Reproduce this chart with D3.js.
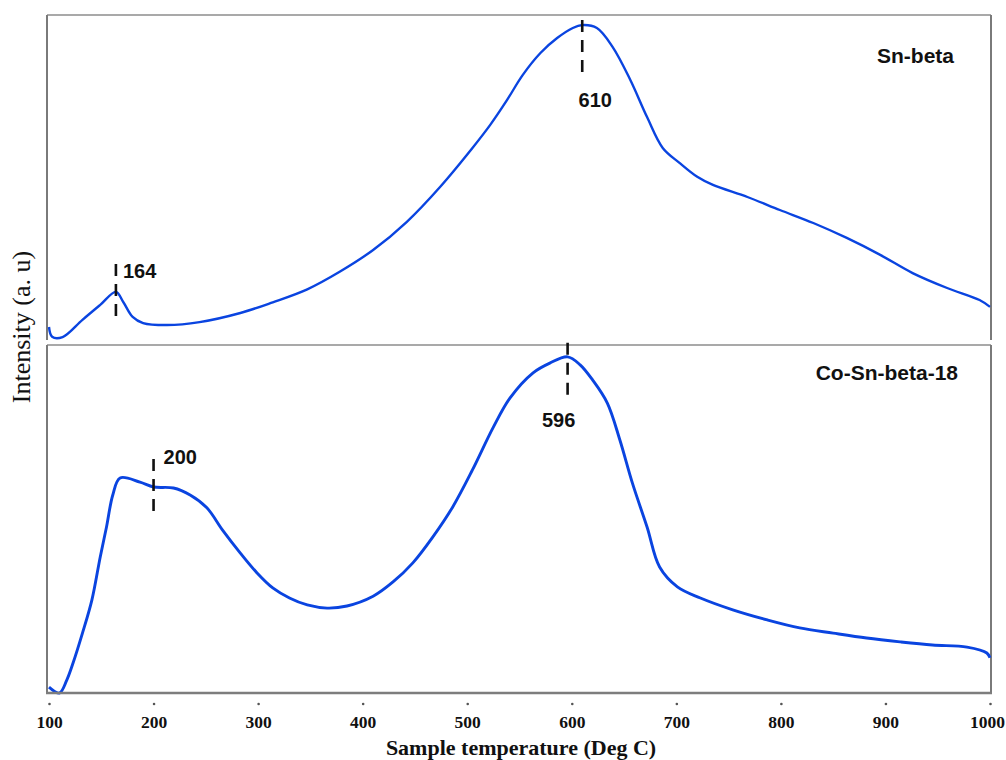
<!DOCTYPE html>
<html>
<head>
<meta charset="utf-8">
<script src="https://cdn.jsdelivr.net/npm/d3@7"></script>
<style>
  html, body { margin: 0; padding: 0; background: #fff; }
  svg { display: block; }
</style>
</head>
<body>
<svg id="chart" width="1006" height="760"></svg>
<script>
// Temperature-programmed profiles (a.u.) for the two catalysts
const tickTemps = [100, 200, 300, 400, 500, 600, 700, 800, 900, 1000];

const snBetaTemp = [100, 103, 113, 132, 149, 164, 171, 180, 190, 213,
  244, 283, 314, 347, 378, 410, 442, 474, 505, 522,
  538, 553, 570, 586, 601, 610, 624, 639, 656, 672,
  687, 703, 720, 735, 768, 799, 831, 863, 895, 926,
  959, 990, 1000];
const snBetaIntensity = [4.0, 1.0, 0.9, 6.2, 10.8, 14.8, 11.7, 7.1, 5.2, 4.6,
  5.5, 8.3, 11.6, 15.6, 21.0, 27.7, 36.3, 47.1, 59.1, 66.2,
  73.8, 81.5, 88.3, 92.9, 96.0, 96.9, 96.0, 90.2, 80.0, 68.6,
  59.1, 54.5, 50.2, 47.7, 44.0, 40.0, 36.0, 31.4, 26.2, 20.6,
  16.0, 12.3, 10.2];
const snBetaPeaks = [164, 610];

const coSnBetaTemp = [100, 110, 117, 123, 132, 141, 149, 155, 161, 168,
  187, 200, 219, 235, 251, 266, 283, 299, 314, 330,
  347, 366, 385, 410, 429, 448, 467, 486, 505, 525,
  541, 563, 579, 596, 608, 620, 634, 646, 658, 672,
  684, 701, 723, 754, 787, 818, 850, 882, 914, 945,
  978, 997, 1000];
const coSnBetaIntensity = [1.7, 0, 3.7, 8.6, 17.2, 26.7, 39.1, 47.7, 56.9, 61.8,
  60.6, 59.2, 58.9, 56.9, 53.2, 46.8, 40.2, 34.5, 30.2, 27.3,
  25.3, 24.4, 25.0, 27.8, 31.9, 37.4, 44.8, 53.4, 64.1, 76.4,
  84.8, 92.0, 94.8, 96.6, 94.3, 89.9, 83.3, 72.7, 60.3, 47.7,
  36.2, 30.5, 27.3, 23.9, 21.0, 18.7, 17.2, 15.8, 14.7, 13.8,
  13.2, 11.5, 10.1];
const coSnBetaPeaks = [200, 596];

const panelNames = ["Sn-beta", "Co-Sn-beta-18"];
const xTitle = "Sample temperature (Deg C)";
const yTitle = "Intensity (a. u)";

// ---- layout ----
const svg = d3.select("#chart");
const frameLeft = 47, frameRight = 990;
const x = d3.scaleLinear().domain([100, 1000]).range([49, 990]);

const panels = [
  { name: panelNames[0], temp: snBetaTemp, val: snBetaIntensity, peaks: snBetaPeaks,
    top: 15, bottom: 340, nameX: 954, nameY: 63, width: 2.4 },
  { name: panelNames[1], temp: coSnBetaTemp, val: coSnBetaIntensity, peaks: coSnBetaPeaks,
    top: 345, bottom: 693, nameX: 958, nameY: 380, width: 2.9 }
];

// peak marker placement: dash extent around the curve and label offset
const markLayout = {
  164: { up: 28, down: 26, lx: 7, ly: -14, anchor: "start" },
  200: { up: 28, down: 26, lx: 10, ly: -23, anchor: "start" },
  610: { up: 5, down: 47, lx: 13, ly: 82, anchor: "middle" },
  596: { up: 14, down: 41, lx: -9, ly: 70, anchor: "middle" }
};

const frameColor = "#8c8c8c";
const lineColor = "#0a44e0";

panels.forEach((p, i) => {
  const y = d3.scaleLinear().domain([0, 100]).range([p.bottom, p.top]);
  const g = svg.append("g");

  // panel frame
  const frame = g.append("g").attr("fill", "none").attr("stroke", frameColor).attr("stroke-width", 1.6);
  frame.append("line").attr("x1", frameLeft).attr("x2", frameRight + 1).attr("y1", p.top).attr("y2", p.top);
  frame.append("line").attr("x1", frameLeft).attr("x2", frameLeft).attr("y1", p.top).attr("y2", p.bottom)
    .attr("stroke", "#7a7a7a").attr("stroke-width", 2);
  frame.append("line").attr("x1", frameRight + 1).attr("x2", frameRight + 1).attr("y1", p.top).attr("y2", p.bottom)
    .attr("stroke", "#7a7a7a").attr("stroke-width", 2);

  // profile
  const pts = p.temp.map((t, k) => [t, p.val[k]]);
  const line = d3.line().x(d => x(d[0])).y(d => y(d[1])).curve(d3.curveCatmullRom.alpha(0.5));
  g.append("path").datum(pts)
    .attr("d", line)
    .attr("fill", "none")
    .attr("stroke", lineColor)
    .attr("stroke-width", p.width)
    .attr("stroke-linejoin", "round");

  // peak markers
  p.peaks.forEach(t => {
    const k = p.temp.indexOf(t);
    const px = x(t), py = y(p.val[k]);
    const L = markLayout[t];
    g.append("line")
      .attr("x1", px).attr("x2", px)
      .attr("y1", py - L.up).attr("y2", py + L.down)
      .attr("stroke", "#111").attr("stroke-width", 2.6)
      .attr("stroke-dasharray", "12,8");
    g.append("text")
      .attr("x", px + L.lx).attr("y", py + L.ly)
      .attr("text-anchor", L.anchor)
      .attr("font-family", "Liberation Sans, Arial, sans-serif")
      .attr("font-weight", "bold")
      .attr("font-size", 20)
      .attr("fill", "#111")
      .text(String(t));
  });

  // sample name
  g.append("text")
    .attr("x", p.nameX).attr("y", p.nameY)
    .attr("text-anchor", "end")
    .attr("font-family", "Liberation Sans, Arial, sans-serif")
    .attr("font-weight", "bold")
    .attr("font-size", 21)
    .attr("fill", "#111")
    .text(p.name);
});

// bottom axis
const axisY = 693;
svg.append("line")
  .attr("x1", frameLeft - 1).attr("x2", frameRight + 2)
  .attr("y1", axisY).attr("y2", axisY)
  .attr("stroke", "#7d7d7d").attr("stroke-width", 2.4);

const axis = d3.axisBottom(x).tickValues(tickTemps).tickSize(0).tickPadding(23)
  .tickFormat(d3.format("d"));
const ax = svg.append("g").attr("transform", `translate(0,${axisY})`).call(axis);
ax.select(".domain").remove();
ax.selectAll(".tick text")
  .attr("font-family", "Liberation Serif, Times New Roman, serif")
  .attr("font-weight", "bold")
  .attr("font-size", 17.5)
  .attr("fill", "#111")
  .attr("dx", d => d === 1000 ? -3 : 0);
ax.selectAll(".tick").append("circle")
  .attr("cx", 0).attr("cy", 11).attr("r", 1.3).attr("fill", "#555");

// axis titles
svg.append("text")
  .attr("x", 521).attr("y", 755)
  .attr("text-anchor", "middle")
  .attr("font-family", "Liberation Serif, Times New Roman, serif")
  .attr("font-weight", "bold")
  .attr("font-size", 22)
  .attr("fill", "#111")
  .text(xTitle);

svg.append("text")
  .attr("transform", "translate(30,327) rotate(-90)")
  .attr("text-anchor", "middle")
  .attr("font-family", "Liberation Serif, Times New Roman, serif")
  .attr("font-size", 26)
  .attr("fill", "#111")
  .text(yTitle);
</script>
</body>
</html>
